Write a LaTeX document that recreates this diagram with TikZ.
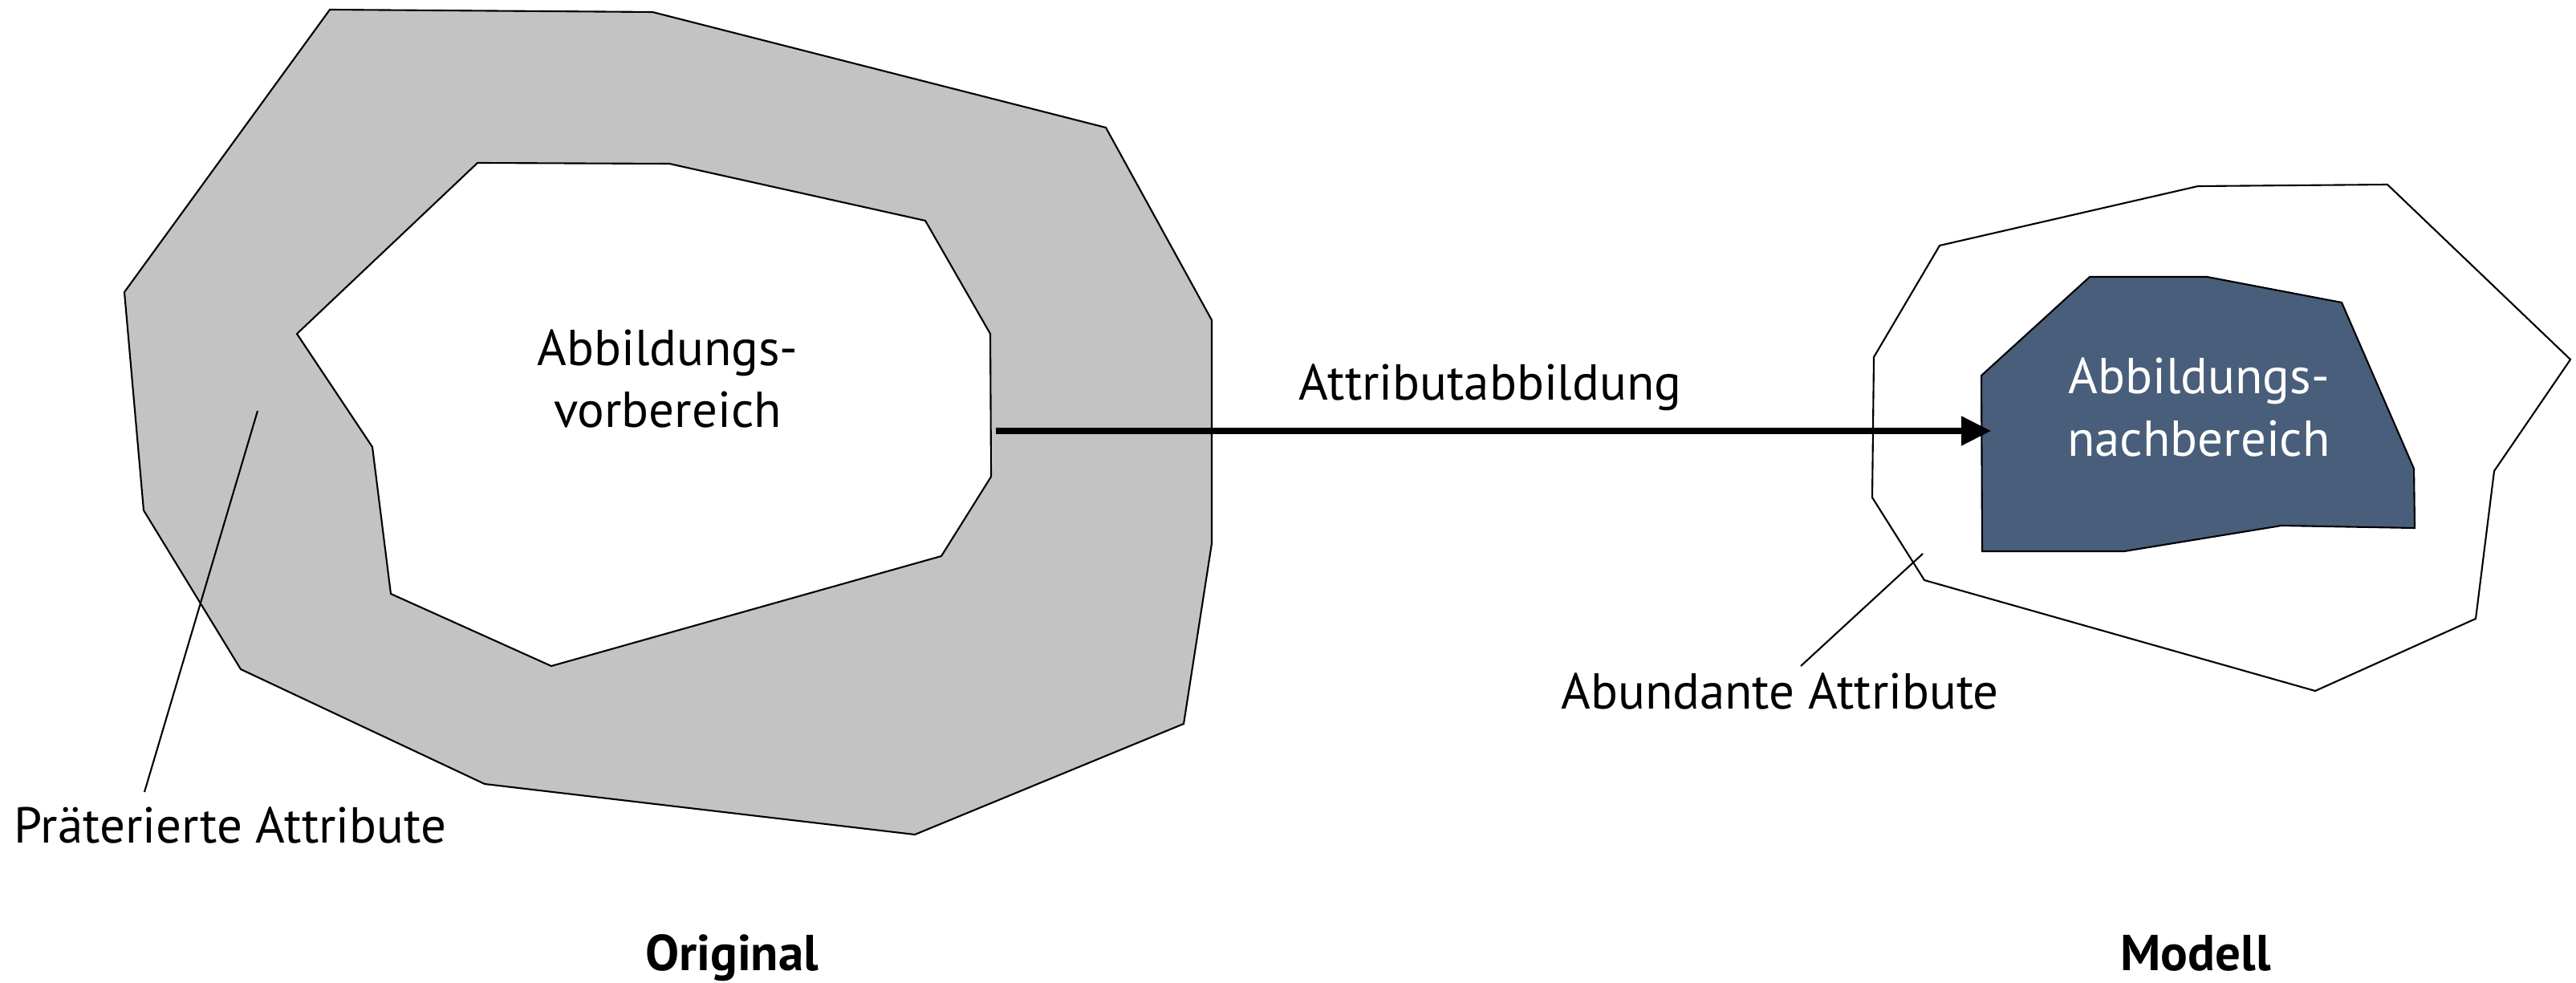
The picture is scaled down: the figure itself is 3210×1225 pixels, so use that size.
\documentclass[tikz,border=0pt]{standalone}
\usepackage{fontspec}
\setmainfont{PT Sans}
\usepackage{tikz}
\usetikzlibrary{arrows.meta}
\definecolor{bandgray}{RGB}{195,195,195}
\definecolor{slateblue}{RGB}{73,94,122}
\newcommand{\lblsize}{\fontsize{17.9pt}{21.9pt}\selectfont}

\begin{document}
\begin{tikzpicture}[x=0.01cm,y=-0.01cm,
  region/.style={draw,line width=0.6pt},
  lbl/.style={anchor=base,inner sep=0pt,font=\lblsize,align=center},
  caption/.style={anchor=base,inner sep=0pt,font=\lblsize\bfseries}]
\useasboundingbox (0,0) rectangle (3210,1225);

% Original: band and Abbildungsvorbereich
\draw [region,fill=bandgray] (411,12) -- (813,15) -- (1378,159) -- (1510,399) -- (1510,677) -- (1475,902) -- (1140,1040) -- (604,977) -- (300,834) -- (179,636) -- (155,364) -- cycle;
\draw [region,fill=white] (595,203) -- (834,204) -- (1153,275) -- (1234,416) -- (1235,594) -- (1173,693) -- (687,830) -- (487,740) -- (464,557) -- (370,416) -- cycle;

% Modell: hull and Abbildungsnachbereich
\draw [region,fill=white] (2417,306) -- (2739,232) -- (2975,230) -- (3203,448) -- (3108,587) -- (3085,771) -- (2885,861) -- (2398,723) -- (2333,620) -- (2335,445) -- cycle;
\draw [region,fill=slateblue] (2604,345) -- (2750,345) -- (2918,377) -- (3008,584) -- (3009,658) -- (2843,655) -- (2647,687) -- (2470,687) -- (2469,468) -- cycle;

% two-line labels: base is the lower line
\node (vorb) at (832,533)[lbl] {Abbildungs-\\vorbereich};
\node (nachb) at (2740,568)[lbl,text=white] {Abbildungs-\\nachbereich};
\node (abb) at (1857,499)[lbl] {Attributabbildung};
\node (praet) at (287,1050)[lbl] {Präterierte Attribute};
\node (abund) at (2218,883)[lbl] {Abundante Attribute};
\node (orig) at (912,1209)[caption] {Original};
\node (modl) at (2736,1209)[caption] {Modell};

\coordinate (vorR) at (1241,537);
\coordinate (nachL) at (2481,537);
\coordinate (praept) at (321,512);
\coordinate (praeend) at (180,987);
\coordinate (abundpt) at (2396,690);
\coordinate (abundend) at (2244,830);

\draw [-{Triangle[length=10.5pt,width=10pt]},line width=2pt] (vorR) -- (nachL);
\draw [line width=0.6pt] (praept) -- (praeend);
\draw [line width=0.6pt] (abundpt) -- (abundend);
\end{tikzpicture}
\end{document}
